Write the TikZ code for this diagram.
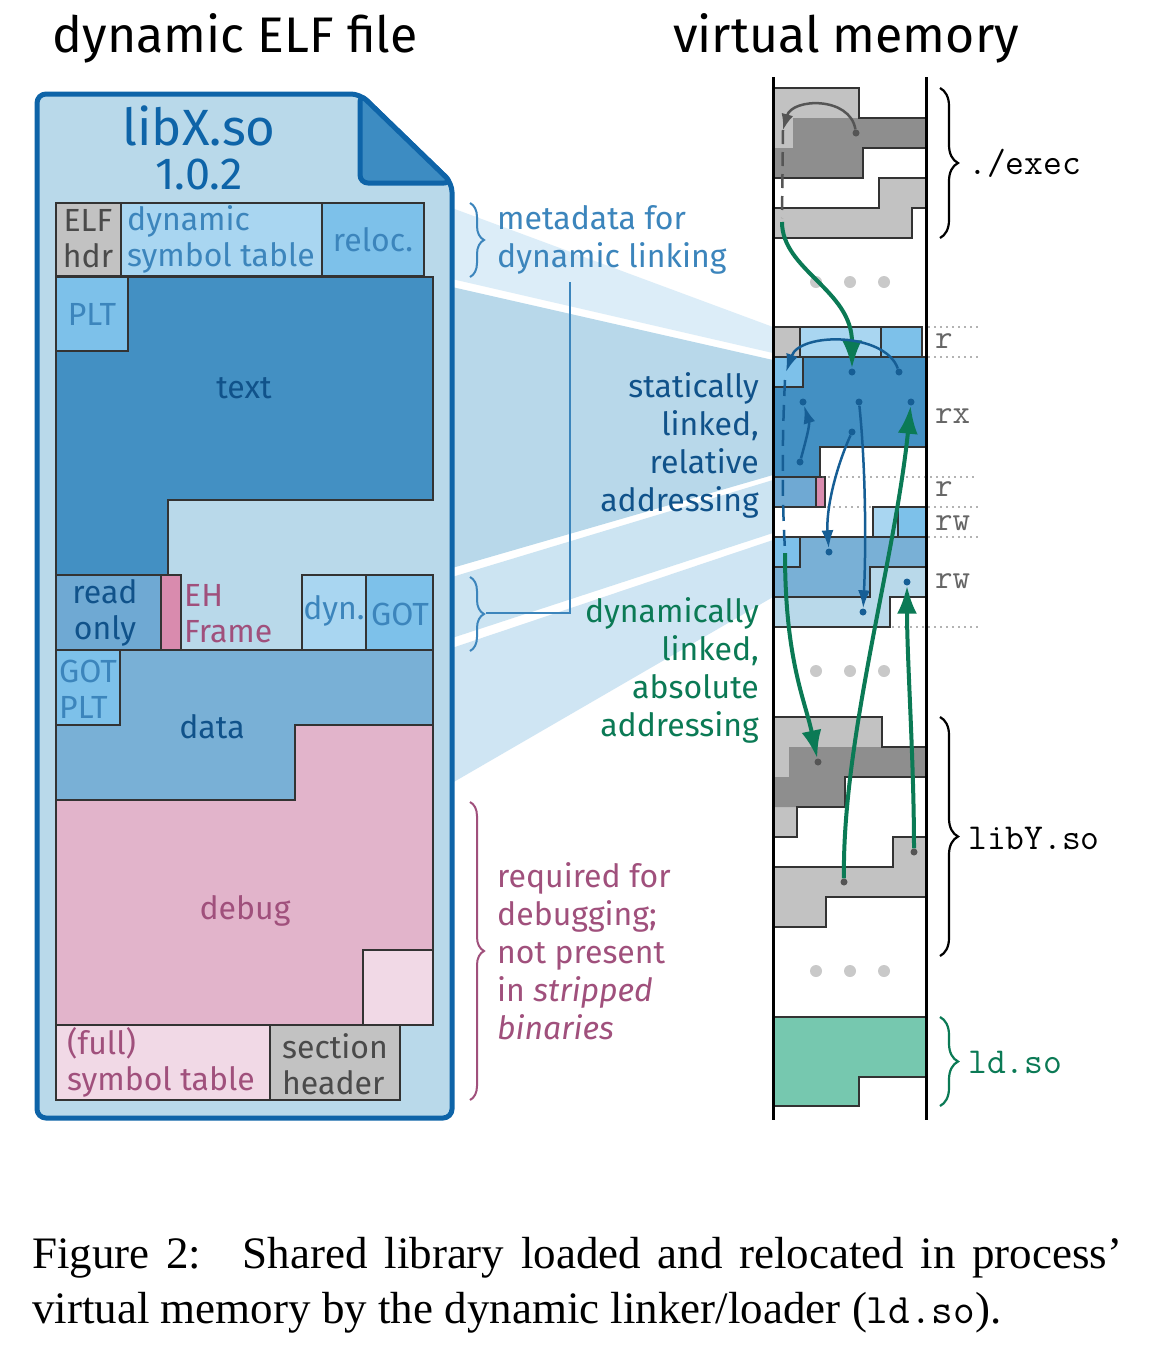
\documentclass[tikz,border=0pt]{standalone}
\usepackage{fontspec}
\setmainfont{Fira Sans}
\newfontfamily\capfont{Liberation Serif}
\usetikzlibrary{arrows.meta,decorations.pathreplacing}
\definecolor{fileline}{HTML}{0E64A8}
\definecolor{filebg}{HTML}{B9D9EA}
\definecolor{foldc}{HTML}{3D8CC2}
\definecolor{textc}{HTML}{4390C3}
\definecolor{lblue}{HTML}{A9D6F1}
\definecolor{mblue}{HTML}{7DC1EA}
\definecolor{roc}{HTML}{6FA9D3}
\definecolor{datac}{HTML}{79B0D6}
\definecolor{ehc}{HTML}{D98BAE}
\definecolor{dbgc}{HTML}{E2B4CB}
\definecolor{lpink}{HTML}{F1D9E6}
\definecolor{lgray}{HTML}{C2C2C2}
\definecolor{dgray}{HTML}{8E8E8E}
\definecolor{edge}{HTML}{333333}
\definecolor{dkblue}{HTML}{10528A}
\definecolor{midblue}{HTML}{3C85BC}
\definecolor{pinktxt}{HTML}{A0507C}
\definecolor{graytxt}{HTML}{4A4A4A}
\definecolor{grn}{HTML}{0B7A55}
\definecolor{ldc}{HTML}{76C8AF}
\definecolor{arrblue}{HTML}{165E95}
\definecolor{beamA}{HTML}{DCEDF8}
\definecolor{beamB}{HTML}{B8D8EA}
\definecolor{beamC}{HTML}{CCE4F2}
\definecolor{beamD}{HTML}{CFE5F3}
\definecolor{permc}{HTML}{666666}
\definecolor{dotc}{HTML}{C9C9C9}
\definecolor{graydot}{HTML}{555555}
\tikzset{
  blk/.style={draw=edge, line width=1.8pt},
  lbl/.style={inner sep=0pt, font=\fontsize{32}{36}\selectfont},
  side/.style={inner sep=0pt, font=\fontsize{32}{38}\selectfont},
  perm/.style={inner sep=0pt, anchor=west, text=permc, font=\ttfamily\fontsize{34}{36}\selectfont},
  mlab/.style={inner sep=0pt, anchor=west, font=\ttfamily\fontsize{36.5}{38}\selectfont},
  brc/.style={decorate, decoration={brace, amplitude=14pt}, line width=2pt},
  bigbrc/.style={decorate, decoration={brace, amplitude=18pt}, line width=2.2pt},
  memline/.style={line width=3pt, draw=black},
  sepline/.style={draw=permc, line width=1.6pt, line cap=round, dash pattern=on 0pt off 6pt},
  vdot/.style={circle, fill=dotc, inner sep=0pt, minimum size=12pt},
  spot/.style={circle, fill=#1, inner sep=0pt, minimum size=7pt},
  garr/.style={draw=grn, line width=4pt, -{Latex[length=28pt,width=20pt]}},
  barr/.style={draw=arrblue, line width=2.5pt, -{Latex[length=18pt,width=12pt]}},
  gyarr/.style={draw=graydot, line width=2.5pt, -{Latex[length=16pt,width=12pt]}},
}
\begin{document}
\begin{tikzpicture}[x=1pt,y=-1pt]
\useasboundingbox (0,0) rectangle (1152,1350);
\fill[white] (0,0) rectangle (1152,1350);

% titles
\node[inner sep=0, anchor=base, font=\fontsize{50}{56}\selectfont] (t1) at (235,52) {dynamic ELF file};
\node[inner sep=0, anchor=base, font=\fontsize{50}{56}\selectfont] (t2) at (846,52) {virtual memory};

% beams
\fill[beamA] (452,208) -- (773,327) -- (773,353) -- (452,279) -- cycle;
\fill[beamB] (452,287) -- (773,360) -- (773,475) -- (452,568) -- cycle;
\fill[beamC] (452,577) -- (773,480) -- (773,533) -- (452,638) -- cycle;
\fill[beamD] (452,648) -- (773,540) -- (773,597) -- (452,783) -- cycle;

% file
\draw[fill=filebg, draw=fileline, line width=5pt, rounded corners=9pt]
  (37,1118) -- (37,94) -- (360,94) -- (452,183) -- (452,1118) -- cycle;
\draw[fill=foldc, draw=fileline, line width=5pt, rounded corners=8pt, line join=round]
  (360,94) -- (360,183) -- (452,183) -- cycle;
\node[inner sep=0, font=\fontsize{51}{56}\selectfont, text=fileline] (lx) at (199,126) {libX.so};
\node[inner sep=0, font=\fontsize{45}{48}\selectfont, text=fileline] (lv) at (199,174) {1.0.2};

\filldraw[blk, fill=lgray] (56,203) rectangle (121,276);
\filldraw[blk, fill=lblue] (121,203) rectangle (322,276);
\filldraw[blk, fill=mblue] (322,203) rectangle (424,276);
\filldraw[blk, fill=textc] (56,277) -- (433,277) -- (433,500) -- (168,500) -- (168,575) -- (56,575) -- cycle;
\filldraw[blk, fill=mblue] (56,277) rectangle (128,351);
\filldraw[blk, fill=roc] (56,575) rectangle (161,650);
\filldraw[blk, fill=ehc] (161,575) rectangle (181,650);
\filldraw[blk, fill=lblue] (302,575) rectangle (366,650);
\filldraw[blk, fill=mblue] (366,575) rectangle (433,650);
\filldraw[blk, fill=datac] (56,650) -- (433,650) -- (433,725) -- (295,725) -- (295,800) -- (56,800) -- cycle;
\filldraw[blk, fill=mblue] (56,650) rectangle (120,725);
\filldraw[blk, fill=dbgc] (295,725) -- (433,725) -- (433,1025) -- (56,1025) -- (56,800) -- (295,800) -- cycle;
\filldraw[blk, fill=lpink] (363,950) rectangle (433,1025);
\filldraw[blk, fill=lpink] (56,1025) rectangle (270,1100);
\filldraw[blk, fill=lgray] (270,1025) rectangle (400,1100);

\node[lbl, align=center, text=graytxt] (elf) at (88,239) {ELF\\hdr};
\node[lbl, align=left, anchor=west, text=midblue] (dst) at (127,239) {dynamic\\symbol table};
\node[lbl, text=midblue] (rel) at (373,240) {reloc.};
\node[lbl, text=midblue] (plt) at (92,314) {PLT};
\node[lbl, text=dkblue] (txt) at (244,388) {text};
\node[lbl, align=center, text=dkblue] (ro) at (105,613) {read\\only};
\node[lbl, align=left, anchor=west, text=pinktxt] (eh) at (184,614) {EH\\Frame};
\node[lbl, text=midblue] (dyn) at (334,611) {dyn.};
\node[lbl, text=midblue] (got) at (400,614) {GOT};
\node[lbl, align=left, anchor=west, text=midblue] (gp) at (59,689) {GOT\\PLT};
\node[lbl, text=dkblue] (dat) at (212,727) {data};
\node[lbl, text=pinktxt] (dbg) at (245,911) {debug};
\node[lbl, align=left, anchor=west, text=pinktxt] (fst) at (67,1062) {(full)\\symbol table};
\node[lbl, align=left, anchor=west, text=graytxt] (sh) at (282,1064) {section\\header};

% side annotations
\draw[brc, draw=midblue] (470,203) -- (470,277);
\node[side, align=left, anchor=west, text=midblue] (meta) at (497,240) {metadata for\\dynamic linking};
\draw[brc, draw=midblue] (470,577) -- (470,651);
\coordinate (bt2) at (486,613);
\coordinate (vtop) at (570,282);
\draw[draw=midblue, line width=2pt] (vtop) |- (bt2);
\node[side, align=right, anchor=east, text=dkblue] (stat) at (759,445) {statically\\linked,\\relative\\addressing};
\node[side, align=right, anchor=east, text=grn] (dynl) at (759,670) {dynamically\\linked,\\absolute\\addressing};
\draw[brc, draw=pinktxt] (470,802) -- (470,1100);
\node[side, align=left, anchor=west, text=pinktxt] (req) at (497,951) {required for\\debugging;\\not present\\in \textit{stripped}\\\textit{binaries}};

% ---------- virtual memory ----------
% exec
\fill[lgray] (773,88) -- (859,88) -- (859,118) -- (926,118) -- (926,148) -- (863,148) -- (863,178) -- (773,178) -- cycle;
\fill[dgray] (793,118) -- (926,118) -- (926,148) -- (863,148) -- (863,178) -- (773,178) -- (773,148) -- (793,148) -- cycle;
\draw[blk] (773,88) -- (859,88) -- (859,118) -- (926,118) -- (926,148) -- (863,148) -- (863,178) -- (773,178);
\filldraw[blk, fill=lgray] (879,178) -- (926,178) -- (926,208) -- (912,208) -- (912,238) -- (773,238) -- (773,208) -- (879,208) -- cycle;

% libX
\filldraw[blk, fill=lgray] (773,327) rectangle (800,357);
\filldraw[blk, fill=lblue] (800,327) rectangle (881,357);
\filldraw[blk, fill=mblue] (881,327) rectangle (922,357);
\filldraw[blk, fill=textc] (773,357) -- (926,357) -- (926,447) -- (820,447) -- (820,477) -- (773,477) -- cycle;
\filldraw[blk, fill=mblue] (773,357) rectangle (803,387);
\filldraw[blk, fill=roc] (773,477) rectangle (816,507);
\filldraw[blk, fill=ehc] (816,477) rectangle (825,507);
\filldraw[blk, fill=lblue] (873,507) rectangle (898,537);
\filldraw[blk, fill=mblue] (898,507) rectangle (926,537);
\filldraw[blk, fill=filebg] (870,567) -- (926,567) -- (926,597) -- (890,597) -- (890,627) -- (773,627) -- (773,597) -- (870,597) -- cycle;
\filldraw[blk, fill=datac] (773,537) -- (926,537) -- (926,567) -- (870,567) -- (870,597) -- (773,597) -- cycle;
\filldraw[blk, fill=mblue] (773,537) rectangle (800,567);

% libY
\fill[lgray] (773,717) -- (882,717) -- (882,747) -- (926,747) -- (926,777) -- (845,777) -- (845,807) -- (797,807) -- (797,837) -- (773,837) -- cycle;
\fill[dgray] (789,747) -- (926,747) -- (926,777) -- (845,777) -- (845,807) -- (773,807) -- (773,777) -- (789,777) -- cycle;
\draw[blk] (773,717) -- (882,717) -- (882,747) -- (926,747) -- (926,777) -- (845,777) -- (845,807) -- (797,807) -- (797,837) -- (773,837);
\filldraw[blk, fill=lgray] (893,837) -- (926,837) -- (926,897) -- (826,897) -- (826,927) -- (773,927) -- (773,867) -- (893,867) -- cycle;

% ld.so
\filldraw[blk, fill=ldc] (773,1017) -- (926,1017) -- (926,1077) -- (859,1077) -- (859,1106) -- (773,1106) -- cycle;

% permission separators
\draw[sepline] (929,327) -- (978,327);
\draw[sepline] (929,357) -- (978,357);
\draw[sepline] (823,477) -- (978,477);
\draw[sepline] (828,507) -- (870,507);
\draw[sepline] (929,507) -- (978,507);
\draw[sepline] (929,537) -- (978,537);
\draw[sepline] (893,627) -- (978,627);
\node[perm] (p1) at (935,341) {r};
\node[perm] (p2) at (935,416) {rx};
\node[perm] (p3) at (935,489) {r};
\node[perm] (p4) at (935,523) {rw};
\node[perm] (p5) at (935,581) {rw};

% ellipsis dots
\foreach \yy/\nm in {282/a,671/b,971/c}{
  \node[vdot] (e1\nm) at (816,\yy) {};
  \node[vdot] (e2\nm) at (850,\yy) {};
  \node[vdot] (e3\nm) at (884,\yy) {};
}

% memory column lines
\draw[memline] (773,77) -- (773,1120);
\draw[memline] (926,77) -- (926,1120);

% braces and region labels
\draw[bigbrc, draw=black] (940,88) -- (940,238);
\node[mlab] (lexec) at (968,163) {./exec};
\draw[bigbrc, draw=black] (940,717) -- (940,956);
\node[mlab] (llibY) at (968,838) {libY.so};
\draw[bigbrc, draw=grn] (940,1017) -- (940,1106);
\node[mlab, text=grn] (lld) at (968,1062) {ld.so};

% reference points
\node[spot=graydot] (g1) at (856,133) {};
\node[spot=arrblue] (b1) at (899,372) {};
\node[spot=arrblue] (b2) at (852,372) {};
\node[spot=arrblue] (b3) at (803,402) {};
\node[spot=arrblue] (b4) at (859,402) {};
\node[spot=arrblue] (b5) at (911,402) {};
\node[spot=arrblue] (b6) at (852,432) {};
\node[spot=arrblue] (b7) at (800,462) {};
\node[spot=arrblue] (b8) at (829,552) {};
\node[spot=arrblue] (b9) at (863,612) {};
\node[spot=arrblue] (b10) at (907,582) {};
\node[spot=graydot] (y1) at (818,762) {};
\node[spot=graydot] (y2) at (844,882) {};
\node[spot=graydot] (y3) at (914,852) {};
\coordinate (ea) at (783,130);
\coordinate (eb) at (782,218);
\coordinate (ec) at (782,222);
\coordinate (ba) at (786,372);
\coordinate (bb) at (785,380);
\coordinate (bc) at (785,550);
\coordinate (bd) at (785,553);

% arrows
\draw[gyarr] (g1) .. controls (850,96) and (792,98) .. (ea);
\draw[draw=graydot, line width=2.5pt, dash pattern=on 14pt off 8pt] (ea) -- (eb);
\draw[garr] (ec) .. controls (782,270) and (852,290) .. (b2);
\draw[barr] (b1) .. controls (885,332) and (800,332) .. (ba);
\draw[draw=arrblue, line width=2.5pt, dash pattern=on 16pt off 9pt] (bb) .. controls (782,440) and (782,500) .. (bc);
\draw[garr] (bd) .. controls (785,660) and (805,700) .. (y1);
\draw[barr] (b7) .. controls (806,440) and (810,425) .. (b3);
\draw[barr] (b6) .. controls (835,470) and (826,510) .. (b8);
\draw[barr] (b4) .. controls (866,470) and (866,550) .. (b9);
\draw[garr] (y2) .. controls (842,740) and (895,560) .. (b5);
\draw[garr] (y3) .. controls (914,760) and (907,660) .. (b10);

% caption
\node[inner sep=0, anchor=base west, font=\capfont\fontsize{45}{55}\selectfont] (cap1) at (32,1268)
  {\makebox[1090pt][s]{Figure 2:\hspace{16pt} Shared library loaded and relocated in process’}};
\node[inner sep=0, anchor=base west, font=\capfont\fontsize{45}{55}\selectfont] (cap2) at (32,1323)
  {virtual memory by the dynamic linker/loader ({\ttfamily\fontsize{42}{50}\selectfont ld.so}).};
\end{tikzpicture}
\end{document}
